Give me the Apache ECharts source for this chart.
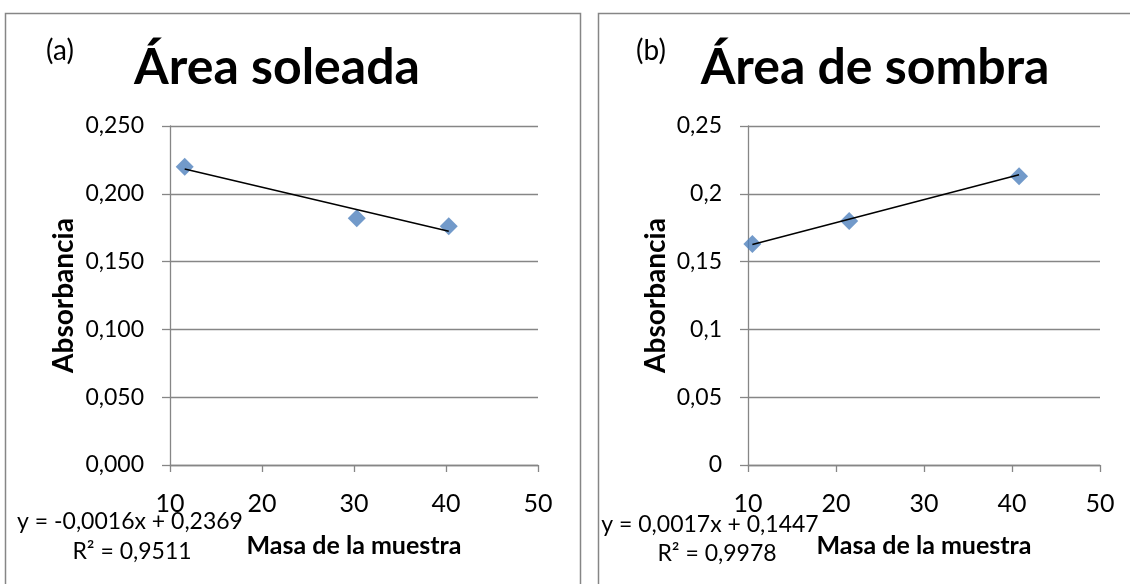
<!DOCTYPE html>
<html>
<head>
<meta charset="utf-8">
<script src="https://cdn.jsdelivr.net/npm/echarts@6/dist/echarts.min.js"></script>
<style>
html,body{margin:0;padding:0;background:#fff;}
#c{width:1130px;height:584px;}
</style>
</head>
<body>
<div id="c"></div>
<script>
// ---- data ----
const titlesA = ['(a)', 'Área soleada'];
const titlesB = ['(b)', 'Área de sombra'];
const yAxisName = 'Absorbancia';
const xAxisName = 'Masa de la muestra';

const massSun = [11.6, 30.3, 40.3];
const absSun = [0.220, 0.182, 0.176];
const massShade = [10.5, 21.5, 40.8];
const absShade = [0.163, 0.180, 0.213];

// trendline coefficients as printed: [slope, intercept]
const trendSun = [-0.0016, 0.2369];
const trendShade = [0.0017, 0.1447];
const eqSun = ['y = -0,0016x + 0,2369', 'R² = 0,9511'];
const eqShade = ['y = 0,0017x + 0,1447', 'R² = 0,9978'];

const xTicks = [10, 20, 30, 40, 50];
const yTicksSun = ['0,000', '0,050', '0,100', '0,150', '0,200', '0,250'];
const yTicksShade = ['0', '0,05', '0,1', '0,15', '0,2', '0,25'];

// ---- chart ----
const FONT = 'Lato';
const grey = '#868686';
const blue = '#4F81BD';

function trendLine(xs, coef) {
  const x0 = Math.min(...xs), x1 = Math.max(...xs);
  return [[x0, coef[0] * x0 + coef[1]], [x1, coef[0] * x1 + coef[1]]];
}

function xAxis(gi) {
  return {
    type: 'value', gridIndex: gi, min: xTicks[0], max: xTicks[xTicks.length - 1], interval: 10,
    name: xAxisName, nameLocation: 'middle', nameGap: 68,
    nameTextStyle: { fontFamily: FONT, fontWeight: 'bold', fontSize: 25, color: '#000' },
    axisLine: { onZero: false, lineStyle: { color: grey, width: 1.3 } },
    axisTick: { show: true, length: 7, inside: false, lineStyle: { color: grey, width: 1.3 } },
    axisLabel: { fontFamily: FONT, fontSize: 25, color: '#000', margin: 26 },
    splitLine: { show: false }
  };
}
function yAxis(gi, labels, gap) {
  return {
    type: 'value', gridIndex: gi, min: 0, max: 0.25, interval: 0.05,
    name: yAxisName, nameLocation: 'middle', nameGap: gap, nameRotate: 90,
    nameTextStyle: { fontFamily: FONT, fontWeight: 'bold', fontSize: 28, color: '#000' },
    axisLine: { show: true, lineStyle: { color: grey, width: 1.3 } },
    axisTick: { show: true, length: 8, lineStyle: { color: grey, width: 1.3 } },
    axisLabel: {
      fontFamily: FONT, fontSize: 23, color: '#000', margin: 26,
      formatter: (v) => labels[Math.round(v / 0.05)]
    },
    splitLine: { show: true, lineStyle: { color: grey, width: 1.3 } }
  };
}

const chart = echarts.init(document.getElementById('c'), null, { renderer: 'canvas' });
chart.setOption({
  animation: false,
  backgroundColor: '#fff',
  grid: [
    { left: 170, right: 1130 - 538, top: 126, bottom: 584 - 465 },
    { left: 748, right: 1130 - 1100, top: 126, bottom: 584 - 465 }
  ],
  xAxis: [xAxis(0), xAxis(1)],
  yAxis: [yAxis(0, yTicksSun, 92), yAxis(1, yTicksShade, 78)],
  series: [
    { type: 'line', xAxisIndex: 0, yAxisIndex: 0, data: trendLine(massSun, trendSun), symbol: 'none',
      lineStyle: { color: '#000', width: 1.5 }, z: 3 },
    { type: 'scatter', xAxisIndex: 0, yAxisIndex: 0, data: massSun.map((m, i) => [m, absSun[i]]),
      symbol: 'diamond', symbolSize: 18, itemStyle: { color: blue }, z: 2 },
    { type: 'line', xAxisIndex: 1, yAxisIndex: 1, data: trendLine(massShade, trendShade), symbol: 'none',
      lineStyle: { color: '#000', width: 1.5 }, z: 3 },
    { type: 'scatter', xAxisIndex: 1, yAxisIndex: 1, data: massShade.map((m, i) => [m, absShade[i]]),
      symbol: 'diamond', symbolSize: 18, itemStyle: { color: blue }, z: 2 }
  ],
  graphic: [
    { type: 'rect', shape: { x: 5.5, y: 13.5, width: 575, height: 620 }, style: { fill: 'none', stroke: grey, lineWidth: 1.5 }, silent: true },
    { type: 'rect', shape: { x: 598.5, y: 13.5, width: 560, height: 620 }, style: { fill: 'none', stroke: grey, lineWidth: 1.5 }, silent: true },
    { type: 'text', x: 60, y: 51, style: { text: titlesA[0], font: '28px ' + FONT, fill: '#000', textAlign: 'center', textVerticalAlign: 'middle' } },
    { type: 'text', x: 277, y: 68, style: { text: titlesA[1], font: 'bold 50px ' + FONT, fill: '#000', textAlign: 'center', textVerticalAlign: 'middle' } },
    { type: 'text', x: 651, y: 51, style: { text: titlesB[0], font: '28px ' + FONT, fill: '#000', textAlign: 'center', textVerticalAlign: 'middle' } },
    { type: 'text', x: 875, y: 68, style: { text: titlesB[1], font: 'bold 50px ' + FONT, fill: '#000', textAlign: 'center', textVerticalAlign: 'middle' } },
    { type: 'text', x: 130, y: 522, style: { text: eqSun[0], font: '23px ' + FONT, fill: '#000', textAlign: 'center', textVerticalAlign: 'middle' } },
    { type: 'text', x: 132, y: 552, style: { text: eqSun[1], font: '23px ' + FONT, fill: '#000', textAlign: 'center', textVerticalAlign: 'middle' } },
    { type: 'text', x: 710, y: 525, style: { text: eqShade[0], font: '23px ' + FONT, fill: '#000', textAlign: 'center', textVerticalAlign: 'middle' } },
    { type: 'text', x: 717, y: 554, style: { text: eqShade[1], font: '23px ' + FONT, fill: '#000', textAlign: 'center', textVerticalAlign: 'middle' } }
  ]
});
</script>
</body>
</html>
